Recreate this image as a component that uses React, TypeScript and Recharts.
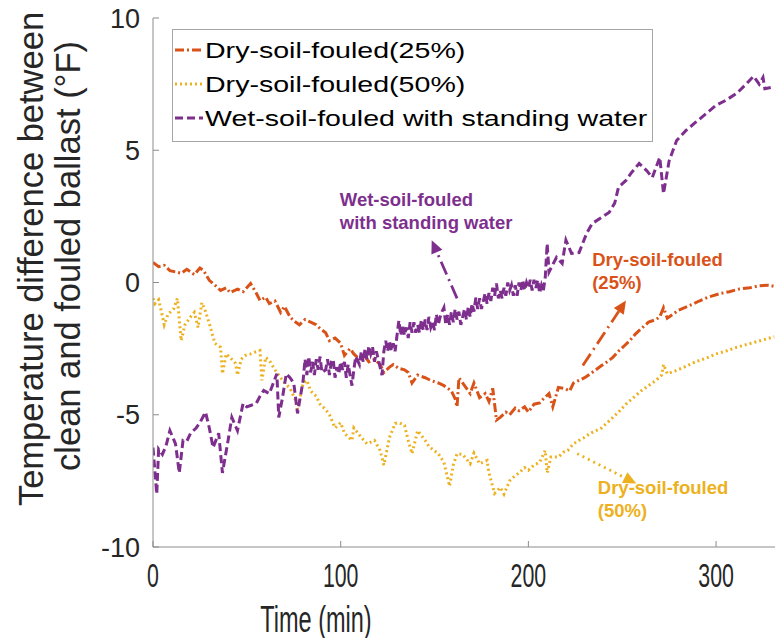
import { LineChart, Line, XAxis, YAxis, Legend, ReferenceLine, ReferenceDot } from "recharts";

const ORANGE = "#D95319";
const YELLOW = "#EDB120";
const PURPLE = "#7E2F8E";
const AXIS = "#8c8c8c";
const INK = "#262626";

const xTicks = [0, 100, 200, 300];
const yTicks = [-10, -5, 0, 5, 10];

// Dry-soil-fouled (25%)
const dry25Time = [0, 3, 6, 9, 12, 15, 18, 22, 25, 27, 30, 33, 36, 39, 41, 45, 48, 52, 55, 57, 60, 62, 65, 68, 70, 73, 75, 78, 81, 84, 87, 89, 92, 94, 97, 100, 102, 105, 107, 110, 113, 115, 118, 121, 123, 126, 128, 131, 134, 136, 138, 141, 145, 148, 152, 155, 159, 161, 162, 163, 166, 169, 171, 174, 177, 179, 181, 183, 185, 188, 190, 193, 195, 198, 200, 203, 206, 208, 211, 213, 216, 219, 222, 224, 227, 230, 233, 236, 239, 242, 245, 248, 251, 254, 257, 260, 264, 268, 270, 272, 274, 277, 280, 285, 291, 296, 302, 307, 312, 318, 323, 328, 331];
const dry25Temp = [0.76, 0.6, 0.65, 0.45, 0.4, 0.35, 0.5, 0.3, 0.55, 0.45, 0.08, -0.1, -0.3, -0.2, -0.38, -0.25, -0.35, -0.04, -0.4, -0.68, -0.55, -0.8, -0.7, -1.13, -0.9, -1.3, -1.45, -1.6, -1.4, -1.5, -1.6, -1.74, -1.9, -2.2, -2.1, -2.3, -2.76, -2.5, -2.7, -2.9, -2.8, -3.0, -2.9, -3.1, -3.4, -3.2, -3.1, -3.25, -3.3, -3.4, -3.8, -3.5, -3.6, -3.7, -3.8, -3.9, -4.1, -4.4, -4.7, -3.6, -3.9, -4.2, -3.8, -4.35, -4.2, -4.5, -4.0, -5.2, -5.1, -4.9, -5.0, -4.75, -4.85, -4.7, -4.9, -4.6, -4.55, -4.4, -4.2, -4.7, -3.97, -4.0, -4.1, -3.8, -3.7, -3.6, -3.45, -3.3, -3.14, -3.0, -2.83, -2.6, -2.4, -2.2, -1.95, -1.75, -1.5, -1.4, -1.3, -0.95, -1.35, -1.2, -1.05, -0.9, -0.7, -0.55, -0.42, -0.35, -0.25, -0.2, -0.12, -0.1, -0.15];

// Dry-soil-fouled (50%)
const dry50Time = [0, 1, 3, 4, 6, 8, 11, 13, 15, 17, 20, 22, 24, 26, 28, 30, 33, 36, 37, 39, 41, 44, 45, 47, 49, 52, 54, 57, 58, 60, 62, 65, 68, 70, 73, 76, 77, 80, 82, 84, 87, 89, 92, 94, 97, 100, 102, 106, 107, 111, 114, 118, 121, 123, 126, 129, 131, 134, 136, 138, 141, 145, 147, 152, 155, 158, 160, 162, 165, 169, 171, 174, 178, 179, 182, 185, 187, 190, 193, 195, 198, 200, 203, 206, 209, 210, 212, 216, 219, 221, 224, 227, 230, 233, 236, 239, 242, 245, 248, 252, 256, 260, 264, 268, 271, 272, 274, 278, 283, 289, 295, 300, 305, 311, 316, 321, 326, 331];
const dry50Temp = [-0.6, -0.8, -0.65, -0.95, -1.6, -1.2, -1.0, -0.6, -2.2, -1.6, -1.3, -1.13, -1.7, -0.76, -1.1, -1.55, -2.3, -2.45, -3.45, -2.7, -2.83, -3.06, -3.5, -2.9, -2.76, -2.7, -2.64, -2.57, -3.7, -2.83, -2.95, -3.3, -3.6, -3.78, -4.0, -4.46, -4.8, -3.8, -3.7, -4.1, -4.3, -4.6, -4.8, -5.0, -5.5, -5.3, -5.7, -5.97, -5.5, -5.86, -6.1, -5.97, -6.35, -6.9, -5.86, -5.33, -5.3, -5.4, -5.97, -6.47, -5.6, -5.97, -6.2, -6.47, -6.8, -7.7, -6.9, -6.47, -6.5, -6.85, -6.45, -6.85, -6.73, -7.2, -7.97, -7.75, -8.0, -7.5, -7.3, -7.2, -7.0, -7.1, -6.9, -6.8, -6.35, -7.2, -6.6, -6.6, -6.4, -6.35, -6.1, -5.97, -5.85, -5.7, -5.6, -5.5, -5.3, -5.1, -4.9, -4.6, -4.35, -4.1, -3.9, -3.7, -3.5, -3.1, -3.45, -3.35, -3.2, -3.0, -2.85, -2.7, -2.6, -2.45, -2.35, -2.25, -2.15, -2.05];

// Wet-soil-fouled with standing water
const wetTime = [0, 2, 3, 5, 7, 9, 12, 14, 16, 18, 20, 23, 25, 28, 30, 32, 35, 37, 40, 42, 45, 48, 50, 52, 55, 57, 59, 62, 66, 67, 69, 71, 73, 75, 77, 80, 81, 82, 83, 84, 85, 86, 87, 88, 89, 90, 92, 93, 94, 95, 96, 97, 98, 99, 100, 101, 102, 103, 104, 105, 106, 107, 108, 110, 111, 112, 113, 114, 115, 116, 117, 118, 119, 120, 121, 122, 123, 124, 125, 126, 127, 128, 129, 130, 131, 132, 133, 134, 135, 136, 137, 138, 139, 140, 141, 142, 143, 144, 145, 146, 147, 148, 149, 150, 151, 152, 153, 154, 155, 156, 157, 158, 159, 160, 161, 162, 163, 164, 165, 166, 167, 168, 169, 170, 171, 172, 173, 174, 175, 176, 177, 178, 179, 180, 181, 182, 183, 184, 185, 186, 187, 188, 189, 190, 191, 192, 193, 194, 195, 196, 197, 198, 199, 200, 201, 202, 203, 204, 205, 206, 207, 208, 209, 210, 211, 215, 218, 220, 223, 227, 231, 234, 239, 243, 246, 248, 252, 255, 259, 263, 266, 270, 272, 275, 279, 284, 289, 295, 300, 305, 311, 316, 320, 323, 325, 326, 331];
const wetTemp = [-6.24, -8.0, -6.3, -6.5, -6.16, -5.6, -6.1, -7.2, -5.97, -6.0, -5.7, -5.5, -5.3, -4.9, -5.5, -6.24, -5.7, -7.2, -5.97, -5.1, -5.6, -4.57, -4.7, -4.65, -4.57, -4.3, -4.08, -4.2, -3.45, -5.1, -4.35, -3.45, -3.6, -3.8, -4.95, -3.7, -2.9, -3.5, -2.8, -3.4, -3.0, -3.5, -2.9, -3.3, -2.8, -3.4, -3.3, -2.9, -3.5, -3.0, -2.9, -3.6, -3.2, -3.45, -3.0, -3.3, -3.0, -3.6, -3.1, -3.5, -3.9, -3.3, -2.8, -3.1, -2.6, -3.0, -2.5, -2.9, -2.4, -2.7, -2.45, -3.0, -2.6, -2.9, -3.2, -3.5, -2.6, -2.2, -2.6, -2.2, -2.6, -2.3, -2.6, -2.0, -1.44, -2.0, -1.6, -2.0, -1.7, -2.1, -1.5, -1.9, -1.5, -1.9, -1.6, -1.9, -1.4, -1.8, -1.4, -1.8, -1.3, -1.7, -1.5, -1.8, -1.2, -1.6, -1.3, -1.1, -0.95, -1.6, -1.2, -1.6, -1.1, -1.5, -1.0, -1.4, -1.1, -1.6, -1.3, -1.0, -1.4, -0.9, -1.3, -0.8, -1.1, -0.57, -1.0, -0.6, -1.0, -0.7, -0.4, -0.8, -0.4, -0.7, -0.2, -0.5, -0.04, -0.6, -0.3, -0.6, -0.2, -0.5, 0.0, -0.3, -0.1, -0.5, -0.1, -0.5, 0.0, -0.3, 0.1, -0.3, 0.0, -0.2, 0.1, -0.3, 0.1, -0.2, 0.1, -0.4, -0.1, -0.3, 0.2, 1.47, 0.4, 0.95, 0.72, 1.6, 1.1, 1.13, 1.85, 2.23, 2.46, 2.65, 3.0, 3.6, 3.86, 4.16, 4.5, 4.23, 3.97, 4.73, 3.36, 4.6, 5.37, 5.75, 6.05, 6.4, 6.7, 6.88, 7.15, 7.5, 7.8, 7.5, 7.75, 7.33, 7.4];

const zip = (t: number[], v: number[]) => t.map((time, i) => ({ time, temp: v[i] }));

const series = [
  { name: "Dry-soil-fouled(25%)", data: zip(dry25Time, dry25Temp), color: ORANGE, dash: "9 3 2 3" },
  { name: "Dry-soil-fouled(50%)", data: zip(dry50Time, dry50Temp), color: YELLOW, dash: "2 3" },
  { name: "Wet-soil-fouled with standing water", data: zip(wetTime, wetTemp), color: PURPLE, dash: "8 4" },
];

// annotation arrows (tail -> head) and labels, in data units
const arrows = [
  { from: { x: 162, y: -0.6 }, to: { x: 148.5, y: 1.6 }, color: PURPLE, dash: "14 5 2 5" },
  { from: { x: 229, y: -3.14 }, to: { x: 252, y: -0.68 }, color: ORANGE, dash: "14 5 2 5" },
  { from: { x: 226, y: -6.47 }, to: { x: 257.5, y: -7.6 }, color: YELLOW, dash: "2 4" },
];
const notes = [
  { x: 99.5, y: 2.91, lines: ["Wet-soil-fouled", "with standing water"], color: PURPLE },
  { x: 234, y: 0.64, lines: ["Dry-soil-fouled", "(25%)"], color: ORANGE },
  { x: 237, y: -8.0, lines: ["Dry-soil-fouled", "(50%)"], color: YELLOW },
];

const arrowShape = (color: string, dash: string) => (p: any) => {
  const { x1, y1, x2, y2 } = p;
  const a = Math.atan2(y2 - y1, x2 - x1);
  const L = 13;
  const W = 6;
  const bx = x2 - L * Math.cos(a);
  const by = y2 - L * Math.sin(a);
  const nx = -Math.sin(a) * W;
  const ny = Math.cos(a) * W;
  return (
    <g>
      <line x1={x1} y1={y1} x2={bx} y2={by} stroke={color} strokeWidth={2.8} strokeDasharray={dash} />
      <polygon points={`${x2},${y2} ${bx + nx},${by + ny} ${bx - nx},${by - ny}`} fill={color} />
    </g>
  );
};

const noteShape = (lines: string[], color: string) => (p: any) => (
  <text x={p.cx} y={p.cy} fill={color} fontSize={18.5} fontWeight="bold" fontFamily="Liberation Sans, Arial, sans-serif">
    {lines.map((l, i) => (
      <tspan key={i} x={p.cx} dy={i === 0 ? 0 : 23}>
        {l}
      </tspan>
    ))}
  </text>
);

const BottomTick = (p: any) => {
  const { x, y, payload } = p;
  return (
    <g>
      <line x1={x} y1={y} x2={x} y2={y - 6} stroke={AXIS} />
      <text
        transform={`translate(${x},${y + 40}) scale(0.82,1.3)`}
        textAnchor="middle"
        fontSize={26}
        fill={INK}
        fontFamily="Liberation Sans, Arial, sans-serif"
      >
        {payload.value}
      </text>
    </g>
  );
};

const TopTick = (p: any) => <line x1={p.x} y1={p.y} x2={p.x} y2={p.y + 6} stroke={AXIS} />;

const LeftTick = (p: any) => {
  const { x, y, payload } = p;
  return (
    <g>
      <line x1={x} y1={y} x2={x + 6} y2={y} stroke={AXIS} />
      <text x={x - 13} y={y + 9.5} textAnchor="end" fontSize={27} fill={INK} fontFamily="Liberation Sans, Arial, sans-serif">
        {payload.value}
      </text>
    </g>
  );
};

const LegendBox = (props: any) => {
  const items = props.payload || [];
  return (
    <svg width={481} height={113} style={{ display: "block" }}>
      <rect x={0.5} y={0.5} width={480} height={112} fill="#fff" stroke="#a6a6a6" />
      {items.map((it: any, i: number) => {
        const base = 29 + i * 34;
        const s = series.find((q) => q.name === it.value);
        return (
          <g key={i}>
            <line x1={3} y1={base - 8} x2={31} y2={base - 8} stroke={it.color} strokeWidth={2.8} strokeDasharray={s ? s.dash : undefined} />
            <text
              transform={`translate(33,${base}) scale(1.27,1)`}
              fontSize={22.5}
              fill="#000"
              fontFamily="Liberation Sans, Arial, sans-serif"
            >
              {it.value}
            </text>
          </g>
        );
      })}
    </svg>
  );
};

export default function App() {
  return (
    <div style={{ position: "absolute", left: 0, top: 0, width: 775, height: 638, background: "#fff" }}>
      <LineChart width={775} height={638} margin={{ top: 18, right: 0, bottom: 61, left: 0 }}>
        <XAxis
          dataKey="time"
          type="number"
          domain={[0, 331.4]}
          ticks={xTicks}
          allowDataOverflow
          height={30}
          tickSize={0}
          tickMargin={0}
          tick={<BottomTick />}
          axisLine={{ stroke: AXIS }}
          label={{
            content: () => (
              <text
                transform="translate(316,632) scale(1,1.55)"
                textAnchor="middle"
                fontSize={23.5}
                fill={INK}
                fontFamily="Liberation Sans, Arial, sans-serif"
              >
                Time (min)
              </text>
            ),
          }}
        />
        <XAxis
          xAxisId="top"
          orientation="top"
          dataKey="time"
          type="number"
          domain={[0, 331.4]}
          ticks={xTicks}
          height={0}
          tickSize={0}
          tickMargin={0}
          tick={<TopTick />}
          axisLine={{ stroke: AXIS }}
        />
        <YAxis
          type="number"
          domain={[-10, 10]}
          ticks={yTicks}
          width={153}
          tickSize={0}
          tickMargin={0}
          tick={<LeftTick />}
          axisLine={{ stroke: AXIS }}
          label={{
            content: () => (
              <g fill={INK} fontFamily="Liberation Sans, Arial, sans-serif" fontSize={34.5}>
                <text transform="translate(43,259) rotate(-90)" textAnchor="middle">
                  Temperature difference between
                </text>
                <text transform="translate(80,256) rotate(-90)" textAnchor="middle">
                  clean and fouled ballast (°F)
                </text>
              </g>
            ),
          }}
        />
        {series.map((s) => (
          <Line
            key={s.name}
            data={s.data}
            dataKey="temp"
            name={s.name}
            type="linear"
            stroke={s.color}
            strokeWidth={3}
            strokeDasharray={s.dash}
            dot={false}
            activeDot={false}
            isAnimationActive={false}
          />
        ))}
        {arrows.map((a, i) => (
          <ReferenceLine key={"a" + i} segment={[a.from, a.to]} shape={arrowShape(a.color, a.dash)} ifOverflow="visible" />
        ))}
        {notes.map((n, i) => (
          <ReferenceDot key={"n" + i} x={n.x} y={n.y} r={0} shape={noteShape(n.lines, n.color)} ifOverflow="visible" />
        ))}
        <Legend
          layout="vertical"
          align="center"
          verticalAlign="middle"
          content={<LegendBox />}
          wrapperStyle={{ position: "absolute", left: 172, top: 29, width: 481, height: 113 }}
        />
      </LineChart>
    </div>
  );
}
